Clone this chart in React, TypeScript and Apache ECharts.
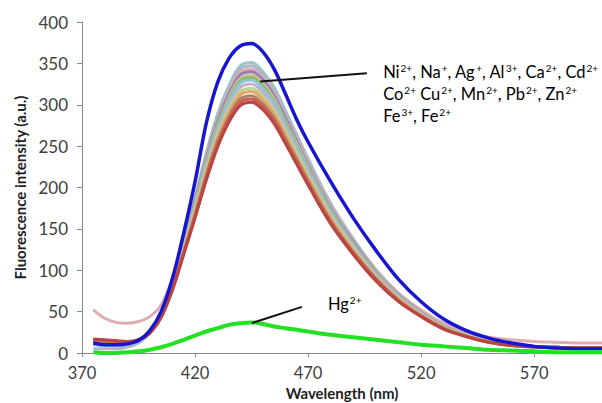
import React, { useEffect, useRef } from 'react';
import * as echarts from 'echarts';

const wavelengths = [375, 380, 385, 390, 395, 400, 405, 410, 415, 420, 425, 430, 435, 440, 445, 450, 455, 460, 465, 470, 480, 490, 500, 510, 520, 530, 540, 550, 560, 570, 580, 590, 600];

const freeSensor = [12, 10, 10, 11, 15, 27, 50, 90, 145, 207, 278, 327, 356, 371, 374, 364, 343, 313, 282, 255, 207, 163, 124, 89, 62, 41, 27, 18, 12, 8, 6, 5, 5];
const hgCurve = [1, 0, 0, 1, 2, 4, 7, 11, 16, 21, 26, 30, 34, 36, 37, 35, 32, 30, 28, 26, 22, 19, 16, 13, 10, 8, 6, 4, 3, 2, 1, 1, 1];

const ion01 = [10, 9, 9, 10, 14, 26, 49, 88, 138, 188, 242, 289, 323, 347, 351, 340, 321, 293, 264, 235, 181, 138, 101, 72, 51, 33, 22, 15, 10, 8, 7, 6, 6];
const ion02 = [5, 5, 5, 7, 12, 24, 47, 86, 136, 186, 239, 285, 319, 343, 347, 336, 317, 289, 261, 232, 179, 136, 100, 71, 50, 33, 22, 15, 10, 8, 7, 6, 6];
const ion03 = [52, 42, 37, 36, 38, 44, 58, 90, 135, 184, 237, 282, 316, 339, 343, 332, 313, 286, 258, 229, 177, 135, 99, 72, 52, 36, 26, 19, 16, 14, 13, 12, 12];
const ion04 = [16, 15, 14, 13, 16, 26, 48, 86, 134, 183, 235, 280, 313, 336, 340, 330, 311, 284, 256, 227, 175, 134, 98, 70, 49, 32, 22, 15, 10, 8, 7, 6, 6];
const ion05 = [12, 11, 10, 11, 15, 26, 47, 85, 132, 180, 232, 276, 309, 332, 336, 326, 307, 280, 253, 225, 173, 132, 97, 69, 48, 32, 22, 14, 10, 8, 7, 6, 6];
const ion06 = [13, 12, 11, 11, 15, 25, 47, 84, 131, 179, 230, 274, 306, 329, 333, 323, 304, 278, 250, 223, 172, 131, 96, 68, 48, 32, 21, 14, 10, 8, 7, 6, 6];
const ion07 = [11, 10, 9, 10, 14, 25, 46, 83, 130, 177, 228, 271, 304, 326, 330, 320, 302, 275, 248, 221, 170, 130, 95, 68, 48, 31, 21, 14, 10, 8, 7, 6, 6];
const ion08 = [12, 11, 10, 11, 15, 25, 46, 82, 128, 174, 224, 267, 299, 321, 325, 315, 297, 271, 244, 217, 167, 128, 94, 67, 47, 31, 21, 14, 10, 8, 7, 6, 6];
const ion09 = [13, 12, 11, 11, 15, 25, 45, 81, 126, 172, 221, 263, 295, 316, 320, 310, 293, 267, 241, 214, 165, 126, 92, 66, 46, 30, 21, 14, 10, 8, 7, 6, 6];
const ion10 = [14, 13, 12, 12, 16, 25, 45, 80, 124, 170, 218, 260, 291, 312, 316, 306, 289, 264, 237, 211, 163, 124, 91, 65, 46, 30, 20, 14, 10, 8, 7, 6, 6];
const ion11 = [15, 14, 13, 13, 16, 25, 44, 78, 122, 167, 215, 256, 286, 307, 311, 301, 284, 259, 234, 208, 160, 122, 90, 64, 45, 30, 20, 13, 10, 8, 7, 6, 6];
const ion12 = [16, 15, 14, 13, 16, 24, 43, 77, 121, 165, 212, 252, 283, 303, 307, 298, 281, 256, 231, 205, 158, 121, 89, 63, 44, 29, 20, 13, 9, 8, 7, 6, 6];
const ion13 = [17, 16, 15, 14, 16, 24, 43, 76, 119, 163, 209, 249, 279, 299, 303, 294, 277, 253, 228, 203, 156, 119, 87, 62, 44, 29, 20, 13, 9, 7, 6, 6, 6];

const ionCurves = [ion01, ion02, ion03, ion04, ion05, ion06, ion07, ion08, ion09, ion10, ion11, ion12, ion13];
const ionColors = ['#9CC6CA', '#AEB6C8', '#DDADB3', '#9A7CB4', '#CBC19C', '#8FBA5E', '#88C6D6', '#C7AECF', '#B9D68E', '#E6A66A', '#B08062', '#CC5A55', '#B8463E'];

const xMin = 370;
const xMax = 600;
const xStep = 50;
const yMin = 0;
const yMax = 400;
const yStep = 50;

const ionLabel =
  '{n|Ni}{s|2+}{n|, Na}{s|+}{n|, Ag}{s|+}{n|, Al}{s|3+}{n|, Ca}{s|2+}{n|, Cd}{s|2+}\n' +
  '{n|Co}{s|2+}{n| Cu}{s|2+}{n|, Mn}{s|2+}{n|, Pb}{s|2+}{n|, Zn}{s|2+}\n' +
  '{n|Fe}{s|3+}{n|, Fe}{s|2+}';
const hgLabel = '{n|Hg}{s|2+}';

export default function App() {
  const ref = useRef<HTMLDivElement>(null);
  useEffect(() => {
    document.body.style.margin = '0';
    const chart = echarts.init(ref.current as HTMLDivElement, null, { renderer: 'svg' });
    const mk = (vals: number[]) => wavelengths.map((w, i) => [w, vals[i]]);
    const series: any[] = ionCurves.map((vals, i) => ({
      type: 'line',
      data: mk(vals),
      smooth: 0.35,
      showSymbol: false,
      lineStyle: { width: 3, color: ionColors[i] },
      z: 2,
    }));
    series.push({
      type: 'line',
      data: mk(freeSensor),
      smooth: 0.35,
      showSymbol: false,
      lineStyle: { width: 3.5, color: '#1616D2' },
      z: 3,
    });
    series.push({
      type: 'line',
      data: mk(hgCurve),
      smooth: 0.35,
      showSymbol: false,
      lineStyle: { width: 4, color: '#22E022' },
      z: 4,
    });
    chart.setOption({
      animation: false,
      grid: { left: 82, right: 0, top: 22, bottom: 50, containLabel: false, outerBoundsMode: 'none' },
      xAxis: {
        type: 'value',
        min: xMin,
        max: xMax,
        interval: xStep,
        name: 'Wavelength (nm)',
        nameLocation: 'middle',
        nameGap: 32,
        nameMoveOverlap: false,
        nameTextStyle: { fontFamily: 'Lato', fontWeight: 'bold', fontSize: 15, lineHeight: 15, color: '#222' },
        axisLine: { lineStyle: { color: '#8a8a8a', width: 1 } },
        axisTick: { show: true, length: 4, lineStyle: { color: '#8a8a8a' } },
        axisLabel: { fontFamily: 'Lato', fontSize: 16.5, lineHeight: 16, color: '#404040', margin: 12, showMaxLabel: false },
        splitLine: { show: false },
      },
      yAxis: {
        type: 'value',
        min: yMin,
        max: yMax,
        interval: yStep,
        name: 'Fluorescence intensity (a.u.)',
        nameLocation: 'middle',
        nameGap: 55,
        nameMoveOverlap: false,
        nameTextStyle: { fontFamily: 'Lato', fontWeight: 'bold', fontSize: 15, color: '#222' },
        axisLine: { show: true, lineStyle: { color: '#8a8a8a', width: 1 } },
        axisTick: { show: true, length: 5, lineStyle: { color: '#8a8a8a' } },
        axisLabel: { fontFamily: 'Lato', fontSize: 17, color: '#404040', margin: 14 },
        splitLine: { show: false },
      },
      series,
    });

    const px = (x: number, y: number) => chart.convertToPixel({ gridIndex: 0 }, [x, y]) as number[];
    const a1 = px(448.8, 328);
    const a2 = px(496, 338);
    const t1 = px(503.2, 353);
    const h1 = px(445.2, 36.3);
    const h2 = px(467.3, 55.7);
    const ht = px(478.8, 73);
    const rich = {
      n: { fontFamily: 'Lato', fontSize: 16.5, color: '#222', lineHeight: 22, verticalAlign: 'middle' },
      s: { fontFamily: 'Lato', fontSize: 10, color: '#222', lineHeight: 22, verticalAlign: 'top', padding: [2, 0, 0, 1] },
    };
    chart.setOption({
      graphic: [
        { type: 'line', shape: { x1: a1[0], y1: a1[1], x2: a2[0], y2: a2[1] }, style: { stroke: '#111', lineWidth: 2 }, z: 10 },
        { type: 'line', shape: { x1: h1[0], y1: h1[1], x2: h2[0], y2: h2[1] }, style: { stroke: '#111', lineWidth: 2 }, z: 10 },
        { type: 'text', x: t1[0], y: t1[1], style: { text: ionLabel, rich, verticalAlign: 'top', align: 'left' }, z: 10 },
        { type: 'text', x: ht[0], y: ht[1], style: { text: hgLabel, rich, verticalAlign: 'top', align: 'left' }, z: 10 },
      ],
    });
    return () => chart.dispose();
  }, []);
  return <div ref={ref} style={{ position: 'fixed', left: 0, top: 0, width: 602, height: 403, background: '#fff' }} />;
}
